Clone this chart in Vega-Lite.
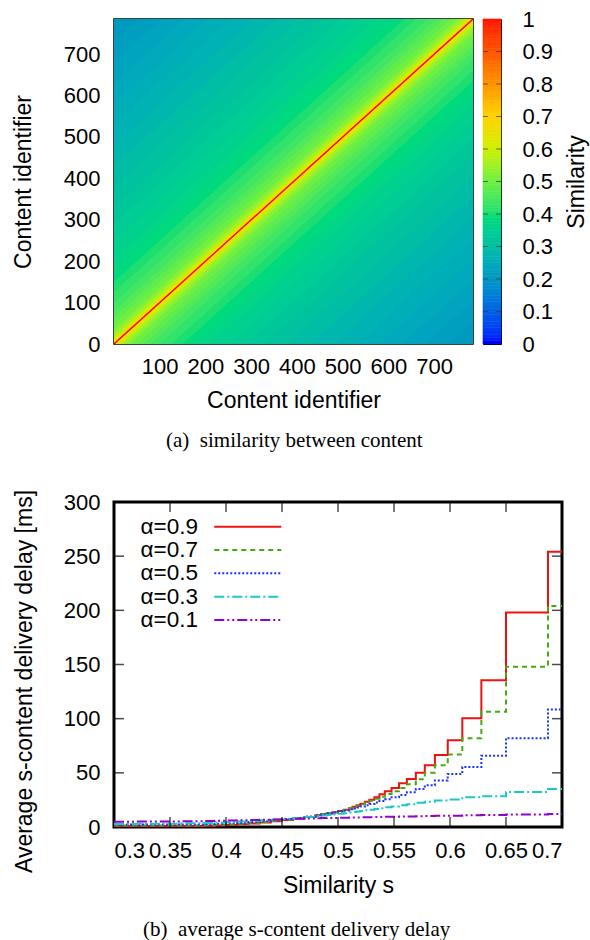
{
"$schema": "https://vega.github.io/schema/vega-lite/v6.json",
"padding": {"left": 11, "top": 7, "right": 0, "bottom": 0},
"config": {
  "font": "Liberation Sans",
  "view": {"stroke": null},
  "axis": {"labelFont": "Liberation Sans", "titleFont": "Liberation Sans", "labelFontSize": 22, "titleFontSize": 23, "titleFontWeight": "normal", "labelColor": "#000", "titleColor": "#000", "grid": false, "domain": false, "ticks": false, "labelOverlap": false},
  "title": {"font": "Liberation Serif", "fontSize": 21, "fontWeight": "normal", "color": "#000"}
},
"resolve": {"scale": {"color": "independent", "strokeDash": "independent"}, "legend": {"color": "independent", "strokeDash": "independent"}},
"spacing": 36,
"datasets": {
  "bands": [
    {"b":"b01","s":0.205,"x":0,"lo":0,"hi":785},{"b":"b01","s":0.205,"x":785,"lo":0,"hi":785},
    {"b":"b02","s":0.215,"x":0,"lo":0,"hi":730},{"b":"b02","s":0.215,"x":55,"lo":0,"hi":785},{"b":"b02","s":0.215,"x":730,"lo":0,"hi":785},{"b":"b02","s":0.215,"x":785,"lo":55,"hi":785},
    {"b":"b03","s":0.226,"x":0,"lo":0,"hi":680},{"b":"b03","s":0.226,"x":105,"lo":0,"hi":785},{"b":"b03","s":0.226,"x":680,"lo":0,"hi":785},{"b":"b03","s":0.226,"x":785,"lo":105,"hi":785},
    {"b":"b04","s":0.238,"x":0,"lo":0,"hi":630},{"b":"b04","s":0.238,"x":155,"lo":0,"hi":785},{"b":"b04","s":0.238,"x":630,"lo":0,"hi":785},{"b":"b04","s":0.238,"x":785,"lo":155,"hi":785},
    {"b":"b05","s":0.25,"x":0,"lo":0,"hi":580},{"b":"b05","s":0.25,"x":205,"lo":0,"hi":785},{"b":"b05","s":0.25,"x":580,"lo":0,"hi":785},{"b":"b05","s":0.25,"x":785,"lo":205,"hi":785},
    {"b":"b06","s":0.262,"x":0,"lo":0,"hi":530},{"b":"b06","s":0.262,"x":255,"lo":0,"hi":785},{"b":"b06","s":0.262,"x":530,"lo":0,"hi":785},{"b":"b06","s":0.262,"x":785,"lo":255,"hi":785},
    {"b":"b07","s":0.275,"x":0,"lo":0,"hi":480},{"b":"b07","s":0.275,"x":305,"lo":0,"hi":785},{"b":"b07","s":0.275,"x":480,"lo":0,"hi":785},{"b":"b07","s":0.275,"x":785,"lo":305,"hi":785},
    {"b":"b08","s":0.29,"x":0,"lo":0,"hi":430},{"b":"b08","s":0.29,"x":355,"lo":0,"hi":785},{"b":"b08","s":0.29,"x":430,"lo":0,"hi":785},{"b":"b08","s":0.29,"x":785,"lo":355,"hi":785},
    {"b":"b09","s":0.305,"x":0,"lo":0,"hi":380},{"b":"b09","s":0.305,"x":380,"lo":0,"hi":760},{"b":"b09","s":0.305,"x":405,"lo":25,"hi":785},{"b":"b09","s":0.305,"x":785,"lo":405,"hi":785},
    {"b":"b10","s":0.32,"x":0,"lo":0,"hi":330},{"b":"b10","s":0.32,"x":330,"lo":0,"hi":660},{"b":"b10","s":0.32,"x":455,"lo":125,"hi":785},{"b":"b10","s":0.32,"x":785,"lo":455,"hi":785},
    {"b":"b11","s":0.335,"x":0,"lo":0,"hi":290},{"b":"b11","s":0.335,"x":290,"lo":0,"hi":580},{"b":"b11","s":0.335,"x":495,"lo":205,"hi":785},{"b":"b11","s":0.335,"x":785,"lo":495,"hi":785},
    {"b":"b12","s":0.35,"x":0,"lo":0,"hi":250},{"b":"b12","s":0.35,"x":250,"lo":0,"hi":500},{"b":"b12","s":0.35,"x":535,"lo":285,"hi":785},{"b":"b12","s":0.35,"x":785,"lo":535,"hi":785},
    {"b":"b13","s":0.365,"x":0,"lo":0,"hi":210},{"b":"b13","s":0.365,"x":210,"lo":0,"hi":420},{"b":"b13","s":0.365,"x":575,"lo":365,"hi":785},{"b":"b13","s":0.365,"x":785,"lo":575,"hi":785},
    {"b":"b14","s":0.38,"x":0,"lo":0,"hi":180},{"b":"b14","s":0.38,"x":180,"lo":0,"hi":360},{"b":"b14","s":0.38,"x":605,"lo":425,"hi":785},{"b":"b14","s":0.38,"x":785,"lo":605,"hi":785},
    {"b":"b15","s":0.398,"x":0,"lo":0,"hi":150},{"b":"b15","s":0.398,"x":150,"lo":0,"hi":300},{"b":"b15","s":0.398,"x":635,"lo":485,"hi":785},{"b":"b15","s":0.398,"x":785,"lo":635,"hi":785},
    {"b":"b16","s":0.415,"x":0,"lo":0,"hi":125},{"b":"b16","s":0.415,"x":125,"lo":0,"hi":250},{"b":"b16","s":0.415,"x":660,"lo":535,"hi":785},{"b":"b16","s":0.415,"x":785,"lo":660,"hi":785},
    {"b":"b17","s":0.435,"x":0,"lo":0,"hi":100},{"b":"b17","s":0.435,"x":100,"lo":0,"hi":200},{"b":"b17","s":0.435,"x":685,"lo":585,"hi":785},{"b":"b17","s":0.435,"x":785,"lo":685,"hi":785},
    {"b":"b18","s":0.455,"x":0,"lo":0,"hi":80},{"b":"b18","s":0.455,"x":80,"lo":0,"hi":160},{"b":"b18","s":0.455,"x":705,"lo":625,"hi":785},{"b":"b18","s":0.455,"x":785,"lo":705,"hi":785},
    {"b":"b19","s":0.475,"x":0,"lo":0,"hi":65},{"b":"b19","s":0.475,"x":65,"lo":0,"hi":130},{"b":"b19","s":0.475,"x":720,"lo":655,"hi":785},{"b":"b19","s":0.475,"x":785,"lo":720,"hi":785},
    {"b":"b20","s":0.495,"x":0,"lo":0,"hi":50},{"b":"b20","s":0.495,"x":50,"lo":0,"hi":100},{"b":"b20","s":0.495,"x":735,"lo":685,"hi":785},{"b":"b20","s":0.495,"x":785,"lo":735,"hi":785},
    {"b":"b21","s":0.52,"x":0,"lo":0,"hi":35},{"b":"b21","s":0.52,"x":35,"lo":0,"hi":70},{"b":"b21","s":0.52,"x":750,"lo":715,"hi":785},{"b":"b21","s":0.52,"x":785,"lo":750,"hi":785},
    {"b":"b22","s":0.55,"x":0,"lo":0,"hi":25},{"b":"b22","s":0.55,"x":25,"lo":0,"hi":50},{"b":"b22","s":0.55,"x":760,"lo":735,"hi":785},{"b":"b22","s":0.55,"x":785,"lo":760,"hi":785},
    {"b":"b23","s":0.59,"x":0,"lo":0,"hi":16},{"b":"b23","s":0.59,"x":16,"lo":0,"hi":32},{"b":"b23","s":0.59,"x":769,"lo":753,"hi":785},{"b":"b23","s":0.59,"x":785,"lo":769,"hi":785},
    {"b":"b24","s":0.63,"x":0,"lo":0,"hi":10},{"b":"b24","s":0.63,"x":10,"lo":0,"hi":20},{"b":"b24","s":0.63,"x":775,"lo":765,"hi":785},{"b":"b24","s":0.63,"x":785,"lo":775,"hi":785},
    {"b":"b25","s":0.68,"x":0,"lo":0,"hi":5},{"b":"b25","s":0.68,"x":5,"lo":0,"hi":10},{"b":"b25","s":0.68,"x":780,"lo":775,"hi":785},{"b":"b25","s":0.68,"x":785,"lo":780,"hi":785},
    {"b":"b26","s":0.78,"x":0,"lo":0,"hi":2},{"b":"b26","s":0.78,"x":2,"lo":0,"hi":4},{"b":"b26","s":0.78,"x":783,"lo":781,"hi":785},{"b":"b26","s":0.78,"x":785,"lo":783,"hi":785}
  ],
  "diag": [{"x":0,"y":0,"s":1},{"x":785,"y":785,"s":1}],
  "cbar": [
    {"v":0,"v2":0.01},{"v":0.01,"v2":0.02},{"v":0.02,"v2":0.03},{"v":0.03,"v2":0.04},{"v":0.04,"v2":0.05},{"v":0.05,"v2":0.06},{"v":0.06,"v2":0.07},{"v":0.07,"v2":0.08},{"v":0.08,"v2":0.09},{"v":0.09,"v2":0.1},
    {"v":0.1,"v2":0.11},{"v":0.11,"v2":0.12},{"v":0.12,"v2":0.13},{"v":0.13,"v2":0.14},{"v":0.14,"v2":0.15},{"v":0.15,"v2":0.16},{"v":0.16,"v2":0.17},{"v":0.17,"v2":0.18},{"v":0.18,"v2":0.19},{"v":0.19,"v2":0.2},
    {"v":0.2,"v2":0.21},{"v":0.21,"v2":0.22},{"v":0.22,"v2":0.23},{"v":0.23,"v2":0.24},{"v":0.24,"v2":0.25},{"v":0.25,"v2":0.26},{"v":0.26,"v2":0.27},{"v":0.27,"v2":0.28},{"v":0.28,"v2":0.29},{"v":0.29,"v2":0.3},
    {"v":0.3,"v2":0.31},{"v":0.31,"v2":0.32},{"v":0.32,"v2":0.33},{"v":0.33,"v2":0.34},{"v":0.34,"v2":0.35},{"v":0.35,"v2":0.36},{"v":0.36,"v2":0.37},{"v":0.37,"v2":0.38},{"v":0.38,"v2":0.39},{"v":0.39,"v2":0.4},
    {"v":0.4,"v2":0.41},{"v":0.41,"v2":0.42},{"v":0.42,"v2":0.43},{"v":0.43,"v2":0.44},{"v":0.44,"v2":0.45},{"v":0.45,"v2":0.46},{"v":0.46,"v2":0.47},{"v":0.47,"v2":0.48},{"v":0.48,"v2":0.49},{"v":0.49,"v2":0.5},
    {"v":0.5,"v2":0.51},{"v":0.51,"v2":0.52},{"v":0.52,"v2":0.53},{"v":0.53,"v2":0.54},{"v":0.54,"v2":0.55},{"v":0.55,"v2":0.56},{"v":0.56,"v2":0.57},{"v":0.57,"v2":0.58},{"v":0.58,"v2":0.59},{"v":0.59,"v2":0.6},
    {"v":0.6,"v2":0.61},{"v":0.61,"v2":0.62},{"v":0.62,"v2":0.63},{"v":0.63,"v2":0.64},{"v":0.64,"v2":0.65},{"v":0.65,"v2":0.66},{"v":0.66,"v2":0.67},{"v":0.67,"v2":0.68},{"v":0.68,"v2":0.69},{"v":0.69,"v2":0.7},
    {"v":0.7,"v2":0.71},{"v":0.71,"v2":0.72},{"v":0.72,"v2":0.73},{"v":0.73,"v2":0.74},{"v":0.74,"v2":0.75},{"v":0.75,"v2":0.76},{"v":0.76,"v2":0.77},{"v":0.77,"v2":0.78},{"v":0.78,"v2":0.79},{"v":0.79,"v2":0.8},
    {"v":0.8,"v2":0.81},{"v":0.81,"v2":0.82},{"v":0.82,"v2":0.83},{"v":0.83,"v2":0.84},{"v":0.84,"v2":0.85},{"v":0.85,"v2":0.86},{"v":0.86,"v2":0.87},{"v":0.87,"v2":0.88},{"v":0.88,"v2":0.89},{"v":0.89,"v2":0.9},
    {"v":0.9,"v2":0.91},{"v":0.91,"v2":0.92},{"v":0.92,"v2":0.93},{"v":0.93,"v2":0.94},{"v":0.94,"v2":0.95},{"v":0.95,"v2":0.96},{"v":0.96,"v2":0.97},{"v":0.97,"v2":0.98},{"v":0.98,"v2":0.99},{"v":0.99,"v2":1}
  ],
  "cticks": [{"t":0.1},{"t":0.2},{"t":0.3},{"t":0.4},{"t":0.5},{"t":0.6},{"t":0.7},{"t":0.8},{"t":0.9}],
  "xticks": [{"t":0.35},{"t":0.4},{"t":0.45},{"t":0.5},{"t":0.55},{"t":0.6},{"t":0.65}],
  "yticks": [{"t":50},{"t":100},{"t":150},{"t":200},{"t":250}],
  "delay": [
    {"a":"α=0.9","s":0.3,"v":0.8},{"a":"α=0.9","s":0.32,"v":0.85},{"a":"α=0.9","s":0.34,"v":0.9},{"a":"α=0.9","s":0.36,"v":1.0},{"a":"α=0.9","s":0.38,"v":1.2},{"a":"α=0.9","s":0.39,"v":1.5},{"a":"α=0.9","s":0.4,"v":1.9},{"a":"α=0.9","s":0.41,"v":2.5},{"a":"α=0.9","s":0.42,"v":3.3},{"a":"α=0.9","s":0.43,"v":4.2},{"a":"α=0.9","s":0.44,"v":5.3},{"a":"α=0.9","s":0.45,"v":6.5},{"a":"α=0.9","s":0.46,"v":7.8},{"a":"α=0.9","s":0.47,"v":9.2},{"a":"α=0.9","s":0.48,"v":10.8},{"a":"α=0.9","s":0.485,"v":11.7},{"a":"α=0.9","s":0.49,"v":12.7},{"a":"α=0.9","s":0.495,"v":13.7},{"a":"α=0.9","s":0.5,"v":14.8},{"a":"α=0.9","s":0.505,"v":16},{"a":"α=0.9","s":0.51,"v":17.4},{"a":"α=0.9","s":0.513,"v":18.6},{"a":"α=0.9","s":0.5165,"v":20},{"a":"α=0.9","s":0.52,"v":21.5},{"a":"α=0.9","s":0.524,"v":23.2},{"a":"α=0.9","s":0.528,"v":25.2},{"a":"α=0.9","s":0.5325,"v":27.5},{"a":"α=0.9","s":0.537,"v":30.2},{"a":"α=0.9","s":0.5418,"v":33},{"a":"α=0.9","s":0.5478,"v":36},{"a":"α=0.9","s":0.5545,"v":40.3},{"a":"α=0.9","s":0.5615,"v":44.3},{"a":"α=0.9","s":0.5695,"v":50},{"a":"α=0.9","s":0.5775,"v":57},{"a":"α=0.9","s":0.5865,"v":66.5},{"a":"α=0.9","s":0.598,"v":80},{"a":"α=0.9","s":0.611,"v":100.5},{"a":"α=0.9","s":0.628,"v":135.5},{"a":"α=0.9","s":0.65,"v":198},{"a":"α=0.9","s":0.6875,"v":254},{"a":"α=0.9","s":0.7,"v":254},
    {"a":"α=0.7","s":0.3,"v":1.3},{"a":"α=0.7","s":0.32,"v":1.3},{"a":"α=0.7","s":0.34,"v":1.35},{"a":"α=0.7","s":0.36,"v":1.45},{"a":"α=0.7","s":0.38,"v":1.7},{"a":"α=0.7","s":0.39,"v":2.0},{"a":"α=0.7","s":0.4,"v":2.4},{"a":"α=0.7","s":0.41,"v":3.0},{"a":"α=0.7","s":0.42,"v":3.7},{"a":"α=0.7","s":0.43,"v":4.6},{"a":"α=0.7","s":0.44,"v":5.6},{"a":"α=0.7","s":0.45,"v":6.8},{"a":"α=0.7","s":0.46,"v":8.0},{"a":"α=0.7","s":0.47,"v":9.3},{"a":"α=0.7","s":0.48,"v":10.8},{"a":"α=0.7","s":0.485,"v":11.7},{"a":"α=0.7","s":0.49,"v":12.6},{"a":"α=0.7","s":0.495,"v":13.6},{"a":"α=0.7","s":0.5,"v":14.6},{"a":"α=0.7","s":0.505,"v":15.8},{"a":"α=0.7","s":0.51,"v":17.2},{"a":"α=0.7","s":0.513,"v":18.2},{"a":"α=0.7","s":0.5165,"v":19.5},{"a":"α=0.7","s":0.52,"v":21},{"a":"α=0.7","s":0.524,"v":22.5},{"a":"α=0.7","s":0.528,"v":24.2},{"a":"α=0.7","s":0.5325,"v":26},{"a":"α=0.7","s":0.537,"v":28},{"a":"α=0.7","s":0.5418,"v":30.5},{"a":"α=0.7","s":0.5478,"v":33},{"a":"α=0.7","s":0.5545,"v":36},{"a":"α=0.7","s":0.5615,"v":39.5},{"a":"α=0.7","s":0.5695,"v":44},{"a":"α=0.7","s":0.5775,"v":50},{"a":"α=0.7","s":0.5865,"v":57},{"a":"α=0.7","s":0.598,"v":67},{"a":"α=0.7","s":0.611,"v":82},{"a":"α=0.7","s":0.628,"v":106.5},{"a":"α=0.7","s":0.65,"v":148},{"a":"α=0.7","s":0.6875,"v":204},{"a":"α=0.7","s":0.7,"v":204},
    {"a":"α=0.5","s":0.3,"v":2.2},{"a":"α=0.5","s":0.32,"v":2.2},{"a":"α=0.5","s":0.34,"v":2.25},{"a":"α=0.5","s":0.36,"v":2.4},{"a":"α=0.5","s":0.38,"v":2.7},{"a":"α=0.5","s":0.39,"v":3.0},{"a":"α=0.5","s":0.4,"v":3.4},{"a":"α=0.5","s":0.41,"v":4.0},{"a":"α=0.5","s":0.42,"v":4.7},{"a":"α=0.5","s":0.43,"v":5.5},{"a":"α=0.5","s":0.44,"v":6.4},{"a":"α=0.5","s":0.45,"v":7.4},{"a":"α=0.5","s":0.46,"v":8.4},{"a":"α=0.5","s":0.47,"v":9.6},{"a":"α=0.5","s":0.48,"v":10.9},{"a":"α=0.5","s":0.485,"v":11.6},{"a":"α=0.5","s":0.49,"v":12.4},{"a":"α=0.5","s":0.495,"v":13.3},{"a":"α=0.5","s":0.5,"v":14.2},{"a":"α=0.5","s":0.505,"v":15.2},{"a":"α=0.5","s":0.51,"v":16.3},{"a":"α=0.5","s":0.513,"v":17},{"a":"α=0.5","s":0.5165,"v":18},{"a":"α=0.5","s":0.52,"v":19},{"a":"α=0.5","s":0.524,"v":20.1},{"a":"α=0.5","s":0.528,"v":21.3},{"a":"α=0.5","s":0.5325,"v":22.6},{"a":"α=0.5","s":0.537,"v":24},{"a":"α=0.5","s":0.5418,"v":25.6},{"a":"α=0.5","s":0.5478,"v":27.5},{"a":"α=0.5","s":0.5545,"v":29.5},{"a":"α=0.5","s":0.5615,"v":32},{"a":"α=0.5","s":0.5695,"v":35},{"a":"α=0.5","s":0.5775,"v":38.5},{"a":"α=0.5","s":0.5865,"v":43},{"a":"α=0.5","s":0.598,"v":49},{"a":"α=0.5","s":0.611,"v":55.4},{"a":"α=0.5","s":0.628,"v":65.8},{"a":"α=0.5","s":0.65,"v":82},{"a":"α=0.5","s":0.6875,"v":108.5},{"a":"α=0.5","s":0.7,"v":108.5},
    {"a":"α=0.3","s":0.3,"v":2.8},{"a":"α=0.3","s":0.32,"v":2.9},{"a":"α=0.3","s":0.34,"v":3.1},{"a":"α=0.3","s":0.36,"v":3.4},{"a":"α=0.3","s":0.38,"v":3.8},{"a":"α=0.3","s":0.39,"v":4.1},{"a":"α=0.3","s":0.4,"v":4.5},{"a":"α=0.3","s":0.41,"v":5.0},{"a":"α=0.3","s":0.42,"v":5.6},{"a":"α=0.3","s":0.43,"v":6.2},{"a":"α=0.3","s":0.44,"v":6.9},{"a":"α=0.3","s":0.45,"v":7.6},{"a":"α=0.3","s":0.46,"v":8.4},{"a":"α=0.3","s":0.47,"v":9.2},{"a":"α=0.3","s":0.48,"v":10.1},{"a":"α=0.3","s":0.485,"v":10.6},{"a":"α=0.3","s":0.49,"v":11.1},{"a":"α=0.3","s":0.495,"v":11.6},{"a":"α=0.3","s":0.5,"v":12.2},{"a":"α=0.3","s":0.505,"v":12.8},{"a":"α=0.3","s":0.51,"v":13.4},{"a":"α=0.3","s":0.513,"v":13.8},{"a":"α=0.3","s":0.5165,"v":14.3},{"a":"α=0.3","s":0.52,"v":14.8},{"a":"α=0.3","s":0.524,"v":15.4},{"a":"α=0.3","s":0.528,"v":16},{"a":"α=0.3","s":0.5325,"v":16.6},{"a":"α=0.3","s":0.537,"v":17.3},{"a":"α=0.3","s":0.5418,"v":18.2},{"a":"α=0.3","s":0.5478,"v":19},{"a":"α=0.3","s":0.5545,"v":20},{"a":"α=0.3","s":0.5615,"v":21},{"a":"α=0.3","s":0.5695,"v":22.5},{"a":"α=0.3","s":0.5775,"v":23.2},{"a":"α=0.3","s":0.5865,"v":24.5},{"a":"α=0.3","s":0.598,"v":25.3},{"a":"α=0.3","s":0.611,"v":27.5},{"a":"α=0.3","s":0.628,"v":28.5},{"a":"α=0.3","s":0.65,"v":32.3},{"a":"α=0.3","s":0.6875,"v":35},{"a":"α=0.3","s":0.7,"v":35},
    {"a":"α=0.1","s":0.3,"v":4.9},{"a":"α=0.1","s":0.32,"v":5.0},{"a":"α=0.1","s":0.34,"v":5.1},{"a":"α=0.1","s":0.36,"v":5.3},{"a":"α=0.1","s":0.38,"v":5.6},{"a":"α=0.1","s":0.39,"v":5.8},{"a":"α=0.1","s":0.4,"v":6.0},{"a":"α=0.1","s":0.41,"v":6.3},{"a":"α=0.1","s":0.42,"v":6.5},{"a":"α=0.1","s":0.43,"v":6.8},{"a":"α=0.1","s":0.44,"v":7.0},{"a":"α=0.1","s":0.45,"v":7.3},{"a":"α=0.1","s":0.46,"v":7.6},{"a":"α=0.1","s":0.47,"v":7.8},{"a":"α=0.1","s":0.48,"v":8.1},{"a":"α=0.1","s":0.485,"v":8.2},{"a":"α=0.1","s":0.49,"v":8.3},{"a":"α=0.1","s":0.495,"v":8.4},{"a":"α=0.1","s":0.5,"v":8.5},{"a":"α=0.1","s":0.505,"v":8.6},{"a":"α=0.1","s":0.51,"v":8.7},{"a":"α=0.1","s":0.513,"v":8.8},{"a":"α=0.1","s":0.5165,"v":8.85},{"a":"α=0.1","s":0.52,"v":8.9},{"a":"α=0.1","s":0.524,"v":9.0},{"a":"α=0.1","s":0.528,"v":9.1},{"a":"α=0.1","s":0.5325,"v":9.2},{"a":"α=0.1","s":0.537,"v":9.3},{"a":"α=0.1","s":0.5418,"v":9.4},{"a":"α=0.1","s":0.5478,"v":9.5},{"a":"α=0.1","s":0.5545,"v":9.6},{"a":"α=0.1","s":0.5615,"v":9.8},{"a":"α=0.1","s":0.5695,"v":9.9},{"a":"α=0.1","s":0.5775,"v":10.1},{"a":"α=0.1","s":0.5865,"v":10.3},{"a":"α=0.1","s":0.598,"v":10.5},{"a":"α=0.1","s":0.611,"v":10.8},{"a":"α=0.1","s":0.628,"v":11.1},{"a":"α=0.1","s":0.65,"v":11.5},{"a":"α=0.1","s":0.6875,"v":12},{"a":"α=0.1","s":0.7,"v":12}
  ]
},
"vconcat": [
  {
    "title": {"text": "(a)\u00a0 similarity between content", "orient": "bottom", "anchor": "middle", "offset": 17, "dx": -6},
    "spacing": 8,
    "hconcat": [
      {
        "width": 359, "height": 325,
        "view": {"stroke": "#000", "strokeWidth": 1.5},
        "layer": [
          {
            "data": {"name": "bands"},
            "mark": {"type": "area", "clip": true, "interpolate": "linear"},
            "encoding": {
              "x": {"field": "x", "type": "quantitative", "scale": {"domain": [0, 785], "nice": false, "zero": false},
                    "axis": {"values": [100,200,300,400,500,600,700], "labelPadding": 12, "title": "Content identifier", "titlePadding": 12}},
              "y": {"field": "lo", "type": "quantitative", "stack": null, "scale": {"domain": [0, 785], "nice": false},
                    "axis": {"values": [0,100,200,300,400,500,600,700], "labelPadding": 14, "title": "Content identifier", "titlePadding": 28}},
              "y2": {"field": "hi"},
              "detail": {"field": "b", "type": "nominal"},
              "color": {"field": "s", "type": "quantitative", "legend": null,
                        "scale": {"type": "linear", "domain": [0,0.1,0.2,0.3,0.4,0.5,0.6,0.7,0.8,0.9,1], "range": ["#0000ff","#0060e0","#0898c0","#00c0a0","#20e070","#70f040","#d0f000","#ffd000","#ff9000","#ff5000","#ff0000"]}}
            }
          },
          {
            "data": {"name": "diag"},
            "mark": {"type": "line", "clip": true, "strokeWidth": 1.3},
            "encoding": {
              "x": {"field": "x", "type": "quantitative"},
              "y": {"field": "y", "type": "quantitative"},
              "color": {"field": "s", "type": "quantitative", "legend": null}
            }
          }
        ]
      },
      {
        "width": 18, "height": 325,
        "view": {"stroke": "#000", "strokeWidth": 1},
        "layer": [
          {
            "data": {"name": "cbar"},
            "mark": {"type": "rect", "strokeWidth": 0.6},
            "encoding": {
              "x": {"datum": 0, "type": "quantitative", "scale": {"domain": [0, 1], "nice": false}, "axis": null},
              "x2": {"datum": 1},
              "y": {"field": "v", "type": "quantitative", "scale": {"domain": [0, 1], "nice": false},
                    "axis": {"orient": "right", "values": [0,0.1,0.2,0.3,0.4,0.5,0.6,0.7,0.8,0.9,1], "format": "~g", "labelOverlap": false, "labelSeparation": 0, "labelPadding": 21, "title": "Similarity", "titleAngle": 270, "titleBaseline": "top", "titlePadding": 13}},
              "y2": {"field": "v2"},
              "color": {"field": "v", "type": "quantitative", "legend": null,
                        "scale": {"type": "linear", "domain": [0,0.1,0.2,0.3,0.4,0.5,0.6,0.7,0.8,0.9,1], "range": ["#0000ff","#0060e0","#0898c0","#00c0a0","#20e070","#70f040","#d0f000","#ffd000","#ff9000","#ff5000","#ff0000"]}},
              "stroke": {"field": "v", "type": "quantitative", "legend": null,
                        "scale": {"type": "linear", "domain": [0,0.1,0.2,0.3,0.4,0.5,0.6,0.7,0.8,0.9,1], "range": ["#0000ff","#0060e0","#0898c0","#00c0a0","#20e070","#70f040","#d0f000","#ffd000","#ff9000","#ff5000","#ff0000"]}}
            }
          },
          {
            "data": {"name": "cticks"},
            "mark": {"type": "tick", "orient": "horizontal", "size": 5, "thickness": 1, "color": "#333", "xOffset": 2.5},
            "encoding": {"x": {"datum": 0, "type": "quantitative"},
                         "y": {"field": "t", "type": "quantitative", "axis": {"orient": "right", "values": [0,0.1,0.2,0.3,0.4,0.5,0.6,0.7,0.8,0.9,1], "format": "~g", "labelOverlap": false, "labelSeparation": 0, "labelPadding": 21, "title": "Similarity", "titleAngle": 270, "titleBaseline": "top", "titlePadding": 13}}}
          },
          {
            "data": {"name": "cticks"},
            "mark": {"type": "tick", "orient": "horizontal", "size": 5, "thickness": 1, "color": "#333", "xOffset": -2.5},
            "encoding": {"x": {"datum": 1, "type": "quantitative"},
                         "y": {"field": "t", "type": "quantitative", "axis": {"orient": "right", "values": [0,0.1,0.2,0.3,0.4,0.5,0.6,0.7,0.8,0.9,1], "format": "~g", "labelOverlap": false, "labelSeparation": 0, "labelPadding": 21, "title": "Similarity", "titleAngle": 270, "titleBaseline": "top", "titlePadding": 13}}}
          }
        ]
      }
    ]
  },
  {
    "width": 448, "height": 325,
    "view": {"stroke": "#000", "strokeWidth": 3},
    "title": {"text": "(b)\u00a0 average s-content delivery delay", "orient": "bottom", "anchor": "middle", "frame": "bounds", "offset": 22, "dx": 9},
    "layer": [
      {
        "data": {"name": "delay"},
        "mark": {"type": "line", "interpolate": "step-after", "strokeWidth": 2, "clip": true},
        "encoding": {
          "x": {"field": "s", "type": "quantitative", "scale": {"domain": [0.3, 0.7], "nice": false, "zero": false},
                "axis": {"values": [0.3,0.35,0.4,0.45,0.5,0.55,0.6,0.65,0.7], "format": ".2~f", "labelPadding": 13, "title": "Similarity s", "titlePadding": 13}},
          "y": {"field": "v", "type": "quantitative", "scale": {"domain": [0, 300], "nice": false},
                "axis": {"values": [0,50,100,150,200,250,300], "labelPadding": 14, "title": "Average s-content delivery delay [ms]", "titlePadding": 27, "titleY": 179}},
          "color": {"field": "a", "type": "nominal",
                    "scale": {"domain": ["α=0.9","α=0.7","α=0.5","α=0.3","α=0.1"], "range": ["#ee1111","#44aa11","#1a33ff","#1ac8c8","#9400d3"]},
                    "legend": {"title": null, "orient": "none", "legendX": 0, "legendY": 13.5, "labelFontSize": 22.5, "labelFont": "Liberation Sans", "labelColor": "#000", "symbolSize": 400, "symbolStrokeWidth": 2, "symbolType": "M8.9,0H15.6", "rowPadding": 0.3, "labelOffset": 4, "padding": 0}},
          "strokeDash": {"field": "a", "type": "nominal",
                    "scale": {"domain": ["α=0.9","α=0.7","α=0.5","α=0.3","α=0.1"], "range": [[1,0],[5,4],[2,2],[10,3,2,3],[10,3,2,3,2,3]]},
                    "legend": {"title": null, "orient": "none", "legendX": 0, "legendY": 13.5, "labelFontSize": 22.5, "labelFont": "Liberation Sans", "labelColor": "#000", "symbolSize": 400, "symbolStrokeWidth": 2, "symbolType": "M8.9,0H15.6", "rowPadding": 0.3, "labelOffset": 4, "padding": 0}}
        }
      },
      {
        "data": {"name": "xticks"},
        "mark": {"type": "tick", "orient": "vertical", "size": 10, "thickness": 1.5, "color": "#000", "yOffset": -5},
        "encoding": {"x": {"field": "t", "type": "quantitative"}, "y": {"datum": 0, "type": "quantitative"}}
      },
      {
        "data": {"name": "xticks"},
        "mark": {"type": "tick", "orient": "vertical", "size": 10, "thickness": 1.5, "color": "#000", "yOffset": 5},
        "encoding": {"x": {"field": "t", "type": "quantitative"}, "y": {"datum": 300, "type": "quantitative"}}
      },
      {
        "data": {"name": "yticks"},
        "mark": {"type": "tick", "orient": "horizontal", "size": 10, "thickness": 1.5, "color": "#000", "xOffset": 5},
        "encoding": {"x": {"datum": 0.3, "type": "quantitative"}, "y": {"field": "t", "type": "quantitative"}}
      },
      {
        "data": {"name": "yticks"},
        "mark": {"type": "tick", "orient": "horizontal", "size": 10, "thickness": 1.5, "color": "#000", "xOffset": -5},
        "encoding": {"x": {"datum": 0.7, "type": "quantitative"}, "y": {"field": "t", "type": "quantitative"}}
      }
    ]
  }
]
}
